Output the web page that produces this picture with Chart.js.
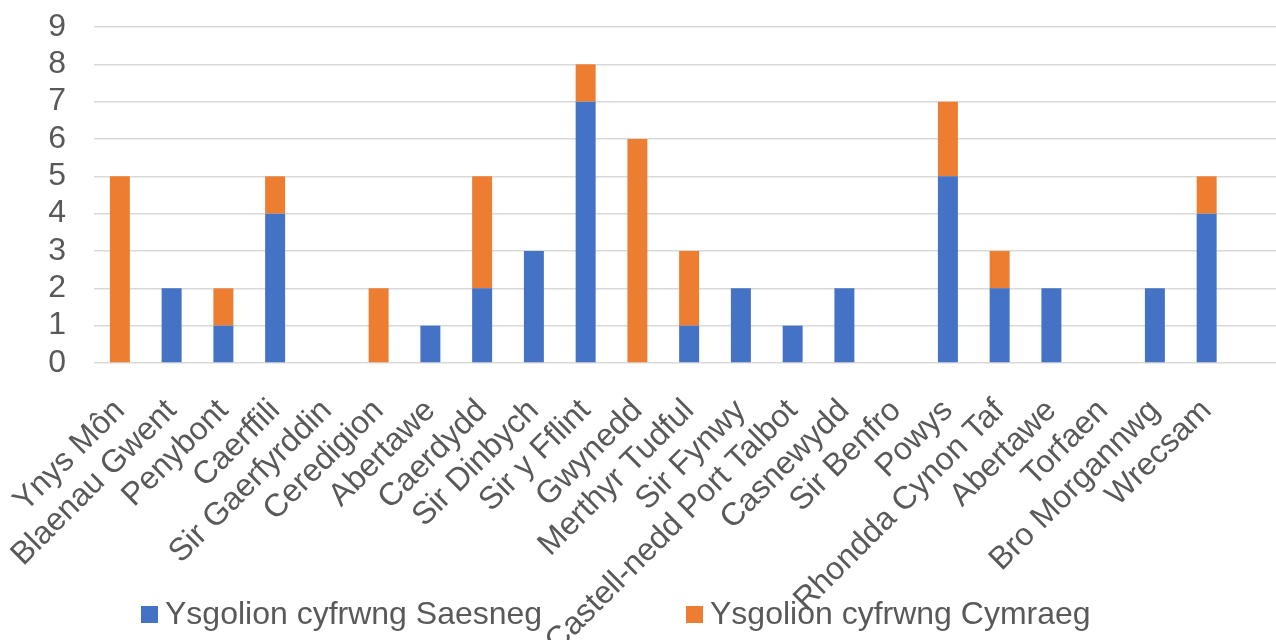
<!DOCTYPE html>
<html>
<head>
<meta charset="utf-8">
<script src="https://cdn.jsdelivr.net/npm/chart.js@4.4.1/dist/chart.umd.min.js"></script>
<style>
  html, body { margin: 0; padding: 0; background: #ffffff; }
  #wrap { width: 1276px; height: 640px; position: relative; }
</style>
</head>
<body>
<div id="wrap"><canvas id="chart"></canvas></div>
<script>
// ---- data ----
const categories = [
  'Ynys Môn', 'Blaenau Gwent', 'Penybont', 'Caerffili', 'Sir Gaerfyrddin',
  'Ceredigion', 'Abertawe', 'Caerdydd', 'Sir Dinbych', 'Sir y Fflint',
  'Gwynedd', 'Merthyr Tudful', 'Sir Fynwy', 'Castell-nedd Port Talbot',
  'Casnewydd', 'Sir Benfro', 'Powys', 'Rhondda Cynon Taf', 'Abertawe',
  'Torfaen', 'Bro Morgannwg', 'Wrecsam'
];
const englishMedium = [0, 2, 1, 4, 0, 0, 1, 2, 3, 7, 0, 1, 2, 1, 2, 0, 5, 2, 2, 0, 2, 4];
const welshMedium   = [5, 0, 1, 1, 0, 2, 0, 3, 0, 1, 6, 2, 0, 0, 0, 0, 2, 1, 0, 0, 0, 1];
const seriesNames = ['Ysgolion cyfrwng Saesneg', 'Ysgolion cyfrwng Cymraeg'];
const yTickValues = [0, 1, 2, 3, 4, 5, 6, 7, 8, 9];

// ---- build ----
const FONT = '"Liberation Sans", Arial, sans-serif';
const TEXT = '#595959';
const toPoints = arr => arr.map((v, i) => ({ x: i, y: v }));

const legendPlugin = {
  id: 'bottomLegend',
  afterDraw(chart) {
    const ctx = chart.ctx;
    const starts = [141, 686];
    ctx.save();
    ctx.font = '32px ' + FONT;
    ctx.textBaseline = 'alphabetic';
    ctx.textAlign = 'left';
    chart.data.datasets.forEach((ds, i) => {
      const x = starts[i];
      ctx.fillStyle = ds.backgroundColor;
      ctx.fillRect(x, 606, 17, 17);
      ctx.fillStyle = TEXT;
      ctx.fillText(ds.label, x + 24, 624);
    });
    ctx.restore();
  }
};

new Chart(document.getElementById('chart'), {
  type: 'bar',
  data: {
    datasets: [
      { label: seriesNames[0], data: toPoints(englishMedium), backgroundColor: '#4472C4' },
      { label: seriesNames[1], data: toPoints(welshMedium), backgroundColor: '#ED7D31' }
    ]
  },
  options: {
    responsive: true,
    maintainAspectRatio: false,
    animation: false,
    devicePixelRatio: 1,
    layout: { padding: { top: 27, left: 0, right: 0, bottom: 0 } },
    datasets: { bar: { categoryPercentage: 1, barPercentage: 0.386, borderWidth: 0 } },
    plugins: { legend: { display: false }, tooltip: { enabled: false } },
    scales: {
      x: {
        type: 'linear',
        stacked: true,
        min: -0.5,
        max: 22.34,
        offset: false,
        grid: { display: false, drawTicks: false },
        border: { display: false },
        afterBuildTicks: s => { s.ticks = categories.map((c, i) => ({ value: i })); },
        afterFit: s => { s.height = 277; s.paddingLeft = 0; s.paddingRight = 0; },
        ticks: {
          autoSkip: false,
          minRotation: 45,
          maxRotation: 45,
          padding: 29,
          labelOffset: 0,
          color: TEXT,
          font: { family: FONT, size: 32 },
          callback: v => categories[v]
        }
      },
      y: {
        stacked: true,
        min: 0,
        max: 9,
        afterBuildTicks: s => { s.ticks = yTickValues.map(v => ({ value: v })); },
        afterFit: s => { s.width = 94; s.paddingTop = 0; s.paddingBottom = 0; },
        grid: { color: '#d9d9d9', lineWidth: 1.5, drawTicks: false },
        border: { display: false },
        ticks: {
          autoSkip: false,
          padding: 28,
          color: TEXT,
          font: { family: FONT, size: 32 }
        }
      }
    }
  },
  plugins: [legendPlugin]
});
</script>
</body>
</html>
